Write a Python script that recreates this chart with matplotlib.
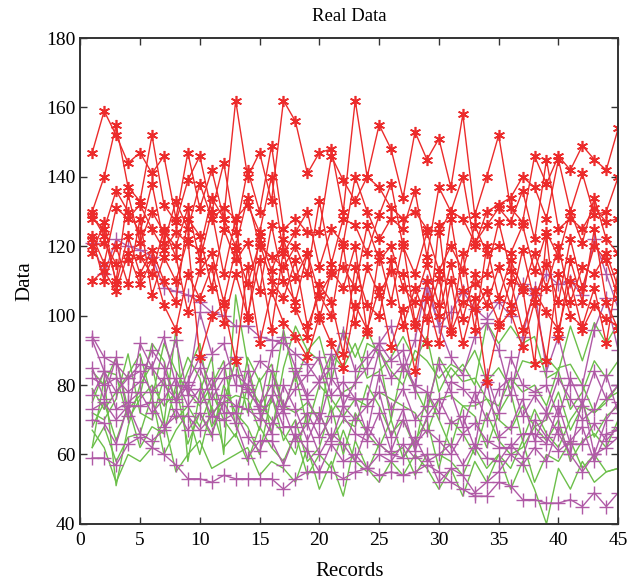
import numpy as np
import matplotlib
matplotlib.use("Agg")
import matplotlib.pyplot as plt

plt.rcParams['font.family'] = ['Liberation Serif', 'DejaVu Serif']

records = list(range(1, 46))

# red series (asterisk markers)
red = [
    [147,159,152,144,147,141,146,128,147,131,142,128,162,140,147,133,162,156,141,147,148,130,162,140,155,148,134,153,145,151,137,158,129,140,152,131,127,146,138,146,142,149,145,142,154],
    [130,140,155,137,133,152,132,127,139,146,130,144,124,142,130,149,125,128,124,124,146,139,133,140,137,131,128,130,125,124,130,140,120,130,132,134,140,137,128,145,130,141,129,130,140],
    [128,125,136,130,124,138,121,133,125,138,128,131,128,132,124,140,118,124,130,114,125,121,140,130,122,128,125,136,117,137,130,128,121,126,131,127,136,122,145,125,128,125,131,127,128],
    [123,115,131,128,132,125,119,124,121,119,134,128,120,134,120,117,114,120,112,133,115,128,126,118,129,138,120,112,124,113,120,113,126,118,120,118,126,113,124,117,130,121,134,122,118],
    [120,121,115,116,117,112,125,117,101,113,118,104,119,109,121,110,105,116,97,106,112,114,108,126,116,120,108,104,115,103,128,107,109,112,127,113,107,118,108,120,104,114,112,118,108],
    [118,127,109,123,112,119,110,104,128,123,108,125,116,121,107,126,110,104,118,106,100,120,98,114,106,113,112,97,110,100,115,99,112,103,114,103,119,104,115,104,122,108,120,116,105],
    [110,113,107,118,109,116,103,96,112,105,114,98,112,100,116,96,119,102,94,109,104,89,114,103,100,116,97,108,99,111,95,104,102,107,98,110,96,107,101,96,110,96,103,99,97],
    [122,110,120,109,128,106,117,110,122,88,100,103,87,114,92,107,98,94,88,100,92,85,103,96,108,91,102,84,105,92,110,92,105,81,97,101,91,104,87,112,100,97,108,92,113],
    [129,123,110,135,121,130,124,120,131,116,130,112,128,99,123,113,122,111,118,99,113,108,120,95,118,104,121,98,92,126,96,118,96,120,105,116,108,86,123,94,116,104,125,104,96],
]

# magenta series (plus markers)
magenta = [
    [121,112,122,120,119,117,108,107,106,104,101,100,97,97,94,93,92,89,86,81,85,95,84,88,92,87,90,78,108,97,101,107,102,99,104,100,109,106,112,109,110,106,122,112,102],
    [94,88,86,82,86,85,94,80,79,101,89,92,80,79,73,90,94,85,77,81,89,74,81,85,92,97,84,93,110,97,88,83,94,98,90,77,94,108,84,94,80,80,96,105,90],
    [93,84,78,82,84,78,82,93,77,85,76,82,83,80,87,84,74,79,83,88,77,81,76,76,90,82,86,80,78,72,81,79,75,83,72,88,80,78,80,71,82,74,84,76,80],
    [85,76,88,71,92,85,80,76,81,88,79,85,88,78,74,80,72,84,76,69,82,77,76,66,83,73,79,70,74,86,78,68,78,70,79,82,71,77,72,82,76,70,73,83,72],
    [82,80,82,78,81,90,85,75,80,75,82,72,72,84,72,66,80,73,64,72,64,74,70,74,78,65,73,61,71,76,69,71,62,81,65,68,76,64,72,66,60,76,60,70,75],
    [77,84,73,75,78,72,76,82,74,79,71,77,74,73,70,77,68,68,72,65,71,71,66,64,72,61,70,63,67,64,60,66,69,64,62,62,66,66,63,74,63,63,69,64,68],
    [73,75,70,74,74,75,68,71,71,67,71,70,72,65,61,69,73,64,69,60,66,63,58,68,63,60,59,65,58,60,63,57,63,59,58,63,59,70,65,61,64,68,58,66,67],
    [70,69,63,74,66,64,67,73,67,72,66,75,69,59,64,64,57,66,61,55,63,58,60,56,60,58,63,59,60,52,56,54,49,52,55,60,57,62,58,68,60,55,60,62,65],
    [59,59,57,63,65,62,60,57,53,53,52,54,53,53,53,53,50,53,55,55,55,53,55,56,54,55,54,55,57,55,52,50,48,48,52,51,47,47,46,46,47,45,49,45,49],
]

# green series (no markers)
green = [
    [62,82,51,68,80,86,69,96,58,78,88,60,106,86,72,75,96,81,90,94,81,96,88,96,88,70,86,79,72,88,82,86,80,98,92,97,92,94,82,84,97,87,98,92,98],
    [84,80,88,73,77,92,87,75,84,92,72,75,87,72,82,66,85,97,90,87,72,78,80,92,90,84,80,90,87,82,86,84,90,81,85,79,87,86,88,84,73,78,87,82,87],
    [79,73,78,83,89,76,92,84,78,74,80,87,68,88,81,86,74,72,75,70,89,85,92,82,84,88,94,87,94,78,85,81,82,76,74,82,78,80,74,85,86,80,72,76,78],
    [75,84,83,70,76,80,74,78,88,82,68,75,77,76,67,84,73,83,68,80,76,71,76,74,78,76,74,72,66,76,77,74,74,76,70,67,74,68,70,78,67,74,72,75,80],
    [72,70,76,89,72,70,82,70,74,68,78,70,65,80,75,70,66,60,72,72,64,70,68,80,74,66,70,62,78,70,62,74,71,62,72,78,64,73,66,62,70,75,65,71,74],
    [68,75,64,74,62,68,66,80,63,72,65,80,72,68,60,77,64,70,58,62,74,60,72,66,62,70,59,64,70,56,70,66,60,72,64,60,62,68,64,70,58,64,66,62,70],
    [62,68,58,65,66,77,60,67,72,60,74,62,66,58,68,62,58,66,54,60,56,67,58,55,63,60,62,54,60,60,58,54,62,56,60,56,64,52,60,58,64,56,60,55,56],
    [67,62,52,60,58,62,70,55,60,64,56,58,60,62,54,58,56,52,62,50,58,48,64,56,52,58,54,60,56,50,56,48,58,52,60,50,58,50,40,56,50,58,52,55,56],
]

RED = '#ec2b2b'
MAG = '#b05aa6'
GRN = '#6cbf4a'

fig = plt.figure(figsize=(6.27, 5.86), dpi=100)
ax = fig.add_axes([0.128, 0.106, 0.858, 0.829])

for s in green:
    ax.plot(records, s, color=GRN, lw=1.0)
for s in magenta:
    ax.plot(records, s, color=MAG, lw=1.0, marker='+', ms=10, mew=1.0)
for s in red:
    ax.plot(records, s, color=RED, lw=1.0, marker=(6, 2, 0), ms=8, mew=1.2)

ax.set_xlim(0, 45)
ax.set_ylim(40, 180)
ax.set_xticks(range(0, 46, 5))
ax.set_yticks(range(40, 181, 20))
ax.tick_params(direction='in', top=True, right=True, labelsize=14, length=5, width=1,
               color='#333333')
ax.tick_params(axis='x', pad=6)
for sp in ax.spines.values():
    sp.set_linewidth(1.4)
    sp.set_color('#333333')

ax.set_title('Real Data', fontsize=13.5, pad=12)
ax.set_xlabel('Records', fontsize=15, labelpad=9)
ax.set_ylabel('Data', fontsize=15, labelpad=8)

fig.savefig('out.png', dpi=100)
